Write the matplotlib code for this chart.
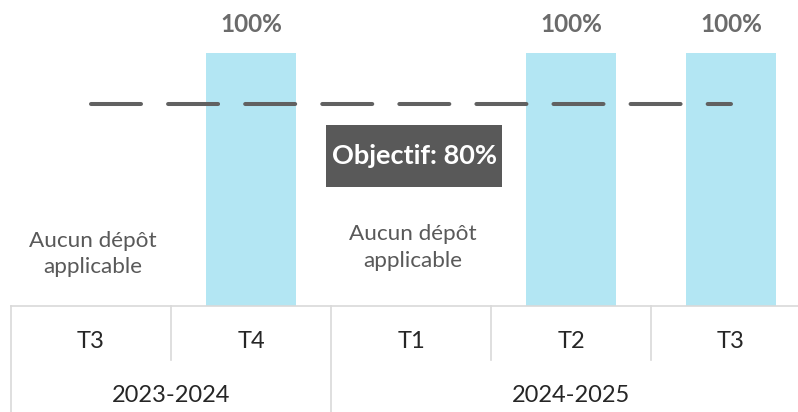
import numpy as np
import matplotlib
matplotlib.use("Agg")
import matplotlib.pyplot as plt
import matplotlib.transforms as mtransforms
from matplotlib.patches import Rectangle

# ---- data ----
quarters = ["T3", "T4", "T1", "T2", "T3"]
years = ["2023-2024", "2024-2025"]
year_spans = [(0, 1), (2, 4)]          # index range of quarters per year
values = [np.nan, 1.0, np.nan, 1.0, 1.0]
value_labels = ["", "100%", "", "100%", "100%"]
target = 0.80
target_label = "Objectif: 80%"
na_text = "Aucun dépôt\napplicable"

# layout (vertical centre of the "no data" notes, in axis units)
na_label_y = {0: 0.205, 2: 0.232}

plt.rcParams['font.family'] = ['Lato', 'DejaVu Sans']
plt.rcParams['lines.scale_dashes'] = False

W, H = 798, 412
fig = plt.figure(figsize=(W / 100, H / 100), dpi=100)
# axes: x from pixel 11 to 811, y from baseline pixel 306 up to 0
ax = fig.add_axes([11 / W, 106 / H, 800 / W, 306 / H])
px_per_unit = 253.0
ax.set_xlim(-0.5, len(quarters) - 0.5)
ax.set_ylim(0, 306 / px_per_unit)
ax.axis('off')

x = np.arange(len(quarters))
bar_color = '#B3E6F3'
ax.bar(x, values, width=0.5625, color=bar_color, zorder=2)

for xi, v, lab in zip(x, values, value_labels):
    if not np.isnan(v):
        ax.annotate(lab, (xi, v), xytext=(0, 29), textcoords='offset pixels',
                    ha='center', va='center', fontsize=17.5, fontweight='bold',
                    color='#6b6b6b')
    else:
        ax.text(xi + 0.01, na_label_y.get(int(xi), 0.215), na_text,
                ha='center', va='center', fontsize=16.2,
                color='#595959', linespacing=1.4)

# target dashed line
ax.plot([0, len(quarters) - 1], [target, target], color='#616161',
        lw=2.9, dashes=(36, 19.5), dash_capstyle='round', zorder=3)

# target label box
bx, by = 2.02, 0.593
bw, bh = 1.1, 62 / px_per_unit
ax.add_patch(Rectangle((bx - bw / 2, by - bh / 2), bw, bh,
                       facecolor='#595959', edgecolor='none', zorder=4))
ax.text(bx, by, target_label, ha='center', va='center', fontsize=19.5,
        fontweight='bold', color='white', zorder=5)

# category table below axis
trans = mtransforms.blended_transform_factory(ax.transData, ax.transAxes)
line_c = '#d9d9d9'
row1 = -54 / 306
row2 = -106 / 306
ax.plot([-0.5, len(quarters) - 0.5], [0, 0], transform=trans, color=line_c,
        lw=1.2, clip_on=False)
for i in range(len(quarters)):
    xl = i - 0.5
    bottom = row2 if any(xl == s[0] - 0.5 for s in year_spans) else row1
    ax.plot([xl, xl], [0, bottom], transform=trans, color=line_c, lw=1.2,
            clip_on=False)
for xi, q in zip(x, quarters):
    ax.text(xi, -36 / 306, q, transform=trans, ha='center', va='center',
            fontsize=17, color='#262626')
for (a, b), yl in zip(year_spans, years):
    ax.text((a + b) / 2, -89 / 306, yl, transform=trans, ha='center',
            va='center', fontsize=17, color='#262626')

fig.savefig('out.png', dpi=100)
